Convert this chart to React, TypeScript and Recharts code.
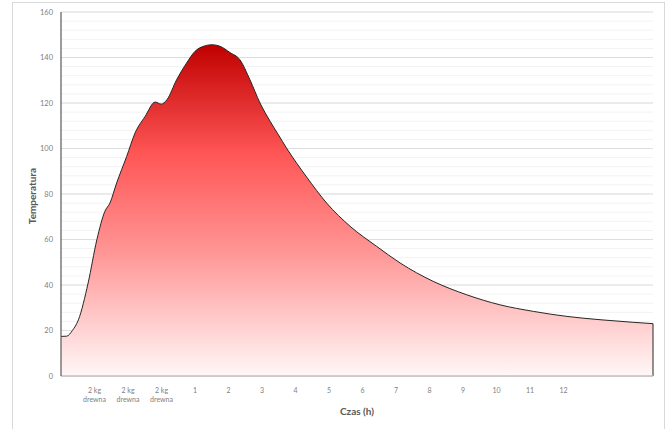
import * as React from "react"
import {
  AreaChart,
  Area,
  XAxis,
  YAxis,
  CartesianGrid,
  ReferenceLine,
  Label,
} from "recharts"

// ── Data ──────────────────────────────────────────────────────────────
// czas in tick units (one unit = one category label step)
const czas = [
  0, 0.17, 0.34, 0.52, 0.81, 1.07, 1.31, 1.46, 1.66, 1.96, 2.21, 2.51, 2.81,
  2.99, 3.16, 3.45, 3.75, 4.0, 4.25, 4.5, 4.75, 5.04, 5.34, 5.64, 5.94, 6.24,
  6.49, 6.74, 7.33, 7.93, 8.63, 9.42, 10.12, 11.11, 12.11, 13.1, 14.1, 15.1,
  16.12, 17.08, 17.67,
]
const temperatura = [
  17.4, 17.5, 20, 24.7, 40.9, 59.9, 72.4, 76, 84.8, 96.5, 106.8, 114.1, 120.4,
  119.5, 121.4, 130.2, 137.6, 142.7, 144.9, 145.6, 144.9, 142.2, 139, 130.2,
  120, 112, 106, 100, 87.5, 76, 65.8, 57, 49.7, 41.6, 35.7, 31.3, 28.4, 26.2,
  24.7, 23.6, 23,
]
const xTicks = [1, 2, 3, 4, 5, 6, 7, 8, 9, 10, 11, 12, 13, 14, 15]
const xLabels = [
  "2 kg\ndrewna", "2 kg\ndrewna", "2 kg\ndrewna",
  "1", "2", "3", "4", "5", "6", "7", "8", "9", "10", "11", "12",
]
const yTicks = [0, 20, 40, 60, 80, 100, 120, 140, 160]
const yMinor = Array.from({ length: 41 }, (_, i) => i * 4)

const data = czas.map((c, i) => ({ czas: c, temp: temperatura[i] }))
const last = data[data.length - 1]

const FONT = "Lato, 'Open Sans', sans-serif"

function XTick(props: any) {
  const { x, y, payload } = props
  const label = xLabels[xTicks.indexOf(payload.value)] ?? ""
  const lines = label.split("\n")
  return (
    <text x={x} y={y} textAnchor="middle" fontSize={7} fill="#808080" fontFamily={FONT}>
      {lines.map((l: string, i: number) => (
        <tspan key={i} x={x} dy={9}>
          {l}
        </tspan>
      ))}
    </text>
  )
}

export default function App() {
  return (
    <div style={{ position: "absolute", left: 0, top: 0, width: 668, height: 429, background: "#fff", overflow: "hidden" }}>
      <div
        style={{
          position: "absolute",
          left: 12,
          top: 2,
          width: 651,
          height: 440,
          border: "1px solid #d9d9d9",
        }}
      />
      <AreaChart
        width={668}
        height={429}
        data={data}
        margin={{ top: 12, right: 15, bottom: 0, left: 12 }}
        style={{ position: "absolute", left: 0, top: 0 }}
      >
        <defs>
          <linearGradient id="ogien" x1="0" y1="0" x2="0" y2="1">
            <stop offset="0%" stopColor="#c00000" />
            <stop offset="33%" stopColor="#ff5656" />
            <stop offset="62%" stopColor="#ff9494" />
            <stop offset="100%" stopColor="#fff7f7" />
          </linearGradient>
        </defs>
        <CartesianGrid vertical={false} horizontalValues={yMinor} stroke="#f2f2f2" strokeWidth={1} />
        <CartesianGrid vertical={false} horizontalValues={yTicks} stroke="#dedede" strokeWidth={1} />
        <XAxis
          dataKey="czas"
          type="number"
          domain={[0, 17.67]}
          ticks={xTicks}
          interval={0}
          tick={<XTick />}
          tickLine={false}
          axisLine={{ stroke: "#bfbfbf", strokeWidth: 1.5 }}
          height={53}
        >
          <Label
            content={(p: any) => {
              const vb = p.viewBox
              return (
                <text
                  x={vb.x + vb.width / 2}
                  y={vb.y + 39}
                  textAnchor="middle"
                  fontSize={10}
                  fontWeight="bold"
                  fill="#595959"
                  fontFamily={FONT}
                >
                  Czas (h)
                </text>
              )
            }}
          />
        </XAxis>
        <YAxis
          domain={[0, 160]}
          ticks={yTicks}
          interval={0}
          width={49}
          tickLine={false}
          tickSize={0}
          tickMargin={8}
          axisLine={{ stroke: "#595959", strokeWidth: 1.2 }}
          tick={{ fontSize: 7.5, fill: "#808080", fontFamily: FONT }}
        >
          <Label
            content={(p: any) => {
              const vb = p.viewBox
              const cx = 32
              const cy = vb.y + vb.height / 2 + 2
              return (
                <text
                  x={cx}
                  y={cy}
                  transform={`rotate(-90 ${cx} ${cy})`}
                  textAnchor="middle"
                  dominantBaseline="central"
                  fontSize={10}
                  fontWeight="bold"
                  fill="#595959"
                  fontFamily={FONT}
                >
                  Temperatura
                </text>
              )
            }}
          />
        </YAxis>
        <Area
          type="monotone"
          dataKey="temp"
          stroke="#262626"
          strokeWidth={1}
          fill="url(#ogien)"
          fillOpacity={1}
          isAnimationActive={false}
          dot={false}
          activeDot={false}
        />
        <ReferenceLine
          segment={[
            { x: last.czas, y: 0 },
            { x: last.czas, y: last.temp },
          ]}
          stroke="#262626"
          strokeWidth={1}
        />
      </AreaChart>
    </div>
  )
}
